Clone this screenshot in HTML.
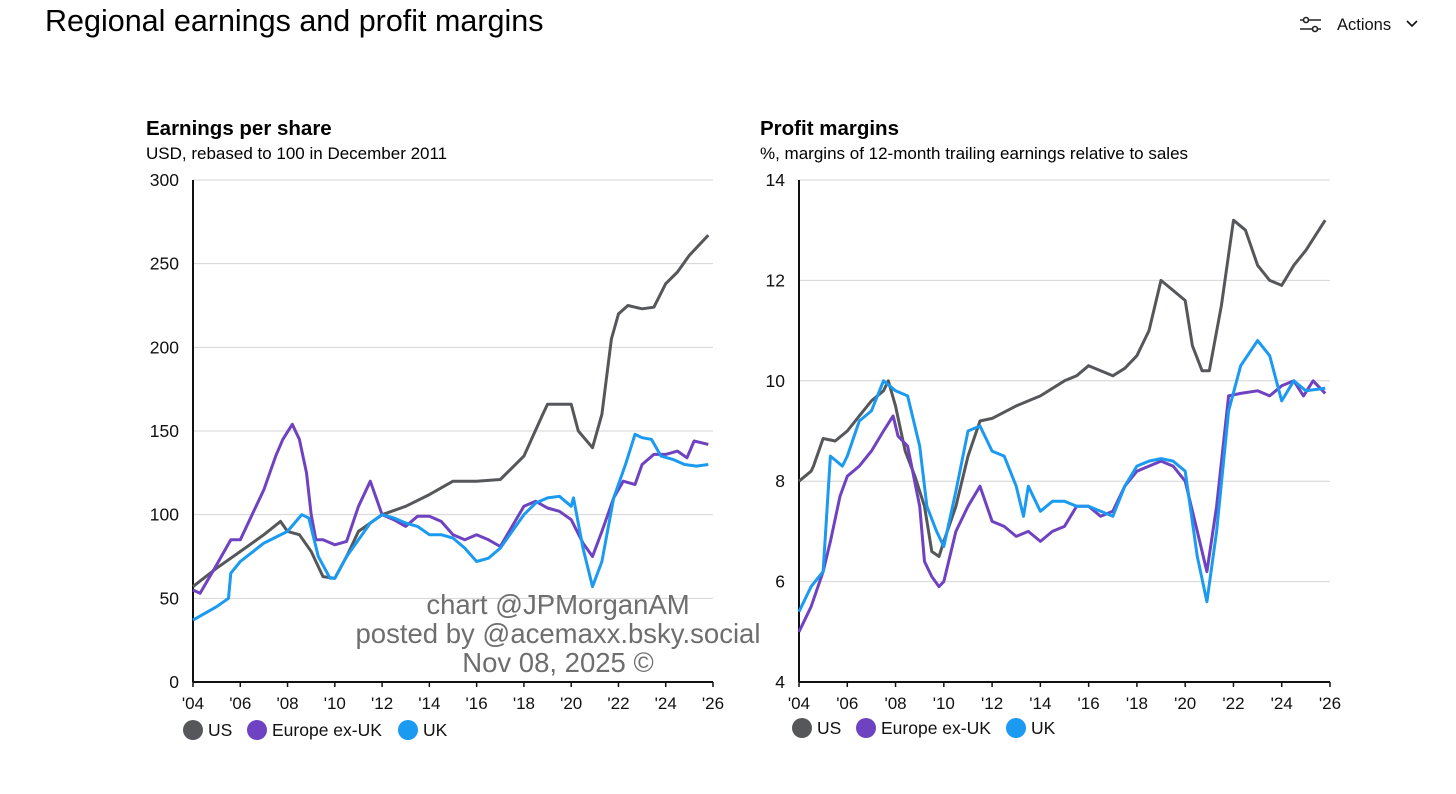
<!DOCTYPE html>
<html><head><meta charset="utf-8"><style>
body{margin:0;background:#fff;font-family:"Liberation Sans",sans-serif;}
svg text{font-family:"Liberation Sans",sans-serif;}
</style></head><body>
<svg id="s" width="1456" height="789">
<text x="45" y="31" font-size="30.5" fill="#000">Regional earnings and profit margins</text>
<g>
<g stroke="#222" stroke-width="1.6" fill="#fff"><line x1="1300" y1="20" x2="1321" y2="20"/><line x1="1300" y1="29" x2="1321" y2="29"/><circle cx="1306" cy="20" r="2.5"/><circle cx="1315" cy="29" r="2.5"/></g>
<text x="1337" y="30" font-size="16.5" fill="#111">Actions</text>
<path d="M1407 21 l5 5 l5 -5" stroke="#111" stroke-width="1.6" fill="none"/>
</g>
<g id="left">
<text x="146" y="135" font-size="20.5" font-weight="bold">Earnings per share</text>
<text x="146" y="159" font-size="17">USD, rebased to 100 in December 2011</text>
</g>
<g id="right">
<text x="760" y="135" font-size="20.5" font-weight="bold">Profit margins</text>
<text x="760" y="159" font-size="17">%, margins of 12-month trailing earnings relative to sales</text>
</g>
<g fill="#6e6e6e" font-size="27.5" text-anchor="middle">
<text x="558" y="614">chart @JPMorganAM</text>
<text x="558" y="643">posted by @acemaxx.bsky.social</text>
<text x="558" y="672">Nov 08, 2025 ©</text>
</g>
</svg>
<script>
const xTicks=["'04","'06","'08","'10","'12","'14","'16","'18","'20","'22","'24","'26"];
const epsTicks=[0,50,100,150,200,250,300];
const pmTicks=[4,6,8,10,12,14];
const seriesNames=["US","Europe ex-UK","UK"];
const epsUS=[[2004,57],[2005,68],[2006,78],[2007,88],[2007.7,96],[2008,90],[2008.5,88],[2009,78],[2009.5,63],[2010,62],[2010.5,75],[2011,90],[2012,100],[2013,105],[2014,112],[2015,120],[2016,120],[2017,121],[2017.5,128],[2018,135],[2018.8,160],[2019,166],[2020,166],[2020.3,150],[2020.9,140],[2021.3,160],[2021.7,205],[2022,220],[2022.4,225],[2023,223],[2023.5,224],[2024,238],[2024.5,245],[2025,255],[2025.8,267]];
const epsEU=[[2004,55],[2004.3,53],[2005,70],[2005.6,85],[2006,85],[2006.5,100],[2007,115],[2007.5,135],[2007.8,145],[2008.2,154],[2008.5,145],[2008.8,125],[2009,100],[2009.2,85],[2009.5,85],[2010,82],[2010.5,84],[2011,105],[2011.5,120],[2012,100],[2012.5,97],[2013,93],[2013.5,99],[2014,99],[2014.5,96],[2015,88],[2015.5,85],[2016,88],[2016.5,85],[2017,81],[2017.5,93],[2018,105],[2018.5,108],[2019,104],[2019.5,102],[2020,97],[2020.5,83],[2020.9,75],[2021.3,90],[2021.8,110],[2022.2,120],[2022.7,118],[2023,130],[2023.5,136],[2024,136],[2024.5,138],[2024.9,134],[2025.2,144],[2025.8,142]];
const epsUK=[[2004,37],[2005,45],[2005.5,50],[2005.6,65],[2006,72],[2007,83],[2008,90],[2008.6,100],[2008.9,98],[2009.3,75],[2009.8,62],[2010,62],[2010.5,75],[2011,85],[2011.5,95],[2012,100],[2012.5,98],[2013,95],[2013.5,93],[2014,88],[2014.5,88],[2015,86],[2015.5,80],[2016,72],[2016.5,74],[2017,80],[2017.5,90],[2018,100],[2018.5,107],[2019,110],[2019.5,111],[2020,105],[2020.1,110],[2020.5,80],[2020.9,57],[2021.3,72],[2021.8,110],[2022.3,130],[2022.7,148],[2023,146],[2023.4,145],[2023.8,135],[2024.3,133],[2024.8,130],[2025.3,129],[2025.8,130]];
const pmUS=[[2004,8.0],[2004.5,8.2],[2004.6,8.3],[2005,8.85],[2005.5,8.8],[2006,9.0],[2006.5,9.3],[2007,9.6],[2007.5,9.8],[2007.7,10.0],[2008,9.5],[2008.4,8.6],[2008.8,8.1],[2009.2,7.5],[2009.5,6.6],[2009.8,6.5],[2010,6.8],[2010.5,7.5],[2011,8.5],[2011.5,9.2],[2012,9.25],[2013,9.5],[2014,9.7],[2015,10.0],[2015.5,10.1],[2016,10.3],[2016.5,10.2],[2017,10.1],[2017.5,10.25],[2018,10.5],[2018.5,11.0],[2019,12.0],[2019.5,11.8],[2020,11.6],[2020.3,10.7],[2020.7,10.2],[2021,10.2],[2021.5,11.5],[2022,13.2],[2022.5,13.0],[2023,12.3],[2023.5,12.0],[2024,11.9],[2024.5,12.3],[2025,12.6],[2025.8,13.2]];
const pmEU=[[2004,5.0],[2004.5,5.5],[2005,6.2],[2005.3,6.8],[2005.7,7.7],[2006,8.1],[2006.5,8.3],[2007,8.6],[2007.5,9.0],[2007.9,9.3],[2008.1,8.9],[2008.5,8.7],[2009,7.5],[2009.2,6.4],[2009.5,6.1],[2009.8,5.9],[2010,6.0],[2010.5,7.0],[2011,7.5],[2011.5,7.9],[2012,7.2],[2012.5,7.1],[2013,6.9],[2013.5,7.0],[2014,6.8],[2014.5,7.0],[2015,7.1],[2015.5,7.5],[2016,7.5],[2016.5,7.3],[2017,7.4],[2017.5,7.9],[2018,8.2],[2018.5,8.3],[2019,8.4],[2019.5,8.3],[2020,8.0],[2020.5,7.0],[2020.9,6.2],[2021.3,7.5],[2021.8,9.7],[2022.3,9.75],[2023,9.8],[2023.5,9.7],[2024,9.9],[2024.5,10.0],[2024.9,9.7],[2025.3,10.0],[2025.8,9.75]];
const pmUK=[[2004,5.4],[2004.5,5.9],[2005,6.2],[2005.3,8.5],[2005.8,8.3],[2006,8.5],[2006.5,9.2],[2007,9.4],[2007.5,10.0],[2008,9.8],[2008.5,9.7],[2009,8.7],[2009.3,7.5],[2009.7,7.0],[2010,6.7],[2010.5,7.8],[2011,9.0],[2011.5,9.1],[2012,8.6],[2012.5,8.5],[2013,7.9],[2013.3,7.3],[2013.5,7.9],[2014,7.4],[2014.5,7.6],[2015,7.6],[2015.5,7.5],[2016,7.5],[2016.5,7.4],[2017,7.3],[2017.5,7.9],[2018,8.3],[2018.5,8.4],[2019,8.45],[2019.5,8.4],[2020,8.2],[2020.5,6.5],[2020.9,5.6],[2021.3,7.0],[2021.8,9.4],[2022.3,10.3],[2023,10.8],[2023.5,10.5],[2024,9.6],[2024.5,10.0],[2025,9.8],[2025.8,9.85]];
const colors=["#55575a","#6f42c1","#1a9af0"];
const NS="http://www.w3.org/2000/svg";
function mk(tag,attrs,parent){const e=document.createElementNS(NS,tag);for(const k in attrs)e.setAttribute(k,attrs[k]);parent.appendChild(e);return e;}
function drawChart(g,x0,x1,yTop,yBot,ticks,series,legX,legY,prefix){
  const vmin=ticks[0],vmax=ticks[ticks.length-1];
  const xs=yr=>x0+(yr-2004)/22*(x1-x0);
  const ys=v=>yBot-(v-vmin)/(vmax-vmin)*(yBot-yTop);
  ticks.forEach(t=>{
    if(t!==vmin){const l=mk('line',{x1:x0,x2:x1,y1:ys(t),y2:ys(t),stroke:'#d4d4d4','stroke-width':1},g);
    
    }
    const tx=mk('text',{x:x0-14,y:ys(t)+6,'font-size':17.5,'text-anchor':'end',fill:'#111'},g);tx.textContent=t;
    
    
  });
  const ax=mk('line',{x1:x0,x2:x0,y1:yTop,y2:yBot,stroke:'#111','stroke-width':2},g);
  
  
  const bx=mk('line',{x1:x0,x2:x1,y1:yBot,y2:yBot,stroke:'#111','stroke-width':2},g);
  
  
  xTicks.forEach((t,i)=>{
    const x=xs(2004+i*2);
    mk('line',{x1:x,x2:x,y1:yBot,y2:yBot+5,stroke:'#111','stroke-width':1.5},g);
    const tx=mk('text',{x:x,y:yBot+27,'font-size':17,'text-anchor':'middle',fill:'#111'},g);tx.textContent=t;
    
    
  });
  series.forEach((s,i)=>{
    const p=mk('polyline',{points:s.map(d=>xs(d[0]).toFixed(1)+','+ys(d[1]).toFixed(1)).join(' '),fill:'none',stroke:colors[i],'stroke-width':3,'stroke-linejoin':'round'},g);
    
    
  });
  legX.forEach((lx,i)=>{
    const c=mk('circle',{cx:lx+10,cy:legY,r:10,fill:colors[i]},g);
    
    
    const t=mk('text',{x:lx+25,y:legY+6,'font-size':17.5,fill:'#111'},g);t.textContent=seriesNames[i];
    
    
  });
}
drawChart(document.getElementById('left'),193,713,180,682,epsTicks,[epsUS,epsEU,epsUK],[183,247,398],730,'eps');
drawChart(document.getElementById('right'),799,1330,180,682,pmTicks,[pmUS,pmEU,pmUK],[792,856,1006],728,'margin');
</script>
</body></html>
